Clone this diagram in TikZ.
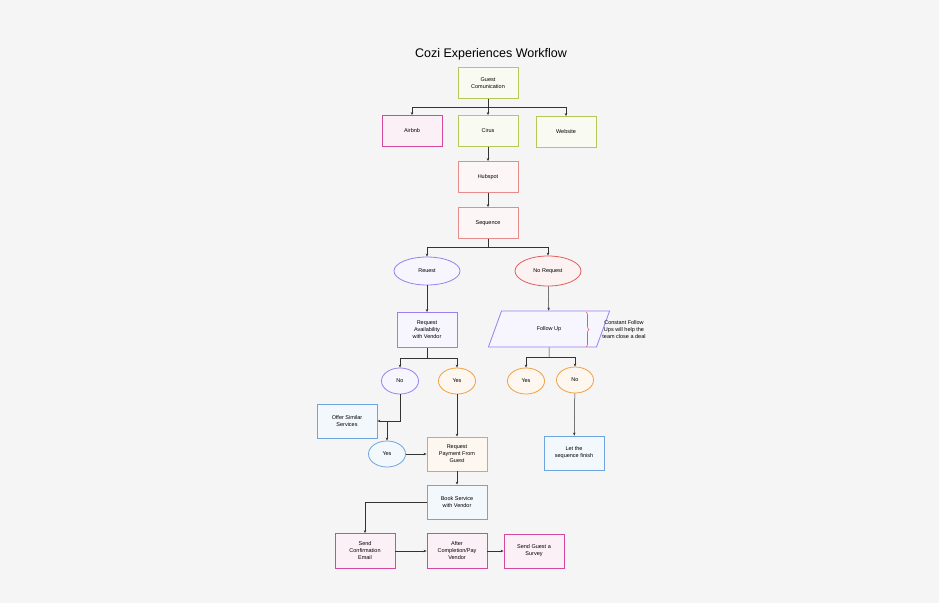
\documentclass[tikz,border=0pt]{standalone}
\usepackage{fontspec}
\setmainfont{Liberation Sans}
\usetikzlibrary{shapes.geometric,arrows.meta,decorations.pathreplacing}
\definecolor{bg}{HTML}{F5F5F5}
\definecolor{grn}{HTML}{B3C95A}
\definecolor{pnk}{HTML}{D6489E}
\definecolor{sal}{HTML}{E88B8B}
\definecolor{pur}{HTML}{9A7FF0}
\definecolor{org}{HTML}{F0A040}
\definecolor{blu}{HTML}{6EA4E0}
\definecolor{rd}{HTML}{E35D5D}
\tikzset{
  box/.style={draw=#1, fill=#1!8, line width=0.8pt, minimum width=60pt, minimum height=31pt, align=center, font=\fontsize{5.5}{7}\selectfont},
  oval/.style={ellipse, draw=#1, fill=#1!8, line width=0.8pt, align=center, font=\fontsize{5.5}{7}\selectfont},
  arr/.style={-{Stealth[length=3pt,width=2.5pt]}, line width=0.5pt, black!80},
  ln/.style={line width=0.5pt, black!80}
}
\begin{document}
\begin{tikzpicture}[x=1pt,y=-1pt]
\fill[bg] (0,0) rectangle (939,603);
\node[font=\fontsize{12.5}{14}\selectfont] (title) at (491,54) {Cozi Experiences Workflow};

\node[box=grn] (guest) at (488,83) {Guest\\Comunication};
\node[box=pnk] (airbnb) at (412,131) {Airbnb};
\node[box=grn] (cirus) at (488,131) {Cirus};
\node[box=grn] (web) at (566,132) {Website};
\node[box=sal] (hub) at (488,177) {Hubspot};
\node[box=sal] (seq) at (488,223) {Sequence};

\node[oval=pur, minimum width=66pt, minimum height=28pt] (req) at (427,271) {Reuest};
\node[oval=rd, minimum width=66pt, minimum height=30pt] (noreq) at (548,271) {No Request};
\node[box=pur, minimum height=35pt] (avail) at (427,330) {Request\\Availability\\with Vendor};
\node[trapezium, trapezium left angle=70, trapezium right angle=110, draw=pur, fill=pur!8, line width=0.8pt, minimum width=50pt, minimum height=36pt, font=\fontsize{5.5}{7}\selectfont] (follow) at (549,329) {Follow Up};
\draw[decorate, decoration={brace, amplitude=3pt}, rd, line width=0.6pt] (586,312) -- (586,347) coordinate[midway] (brc);
\node[font=\fontsize{5.5}{7}\selectfont, align=center] (note) at (624,330) {Constant Follow\\Ups will help the\\team close a deal};

\node[oval=pur, minimum width=37pt, minimum height=26pt] (no1) at (400,381) {No};
\node[oval=org, minimum width=37pt, minimum height=26pt] (yes1) at (457,381) {Yes};
\node[oval=org, minimum width=37pt, minimum height=26pt] (yes2) at (526,381) {Yes};
\node[oval=org, minimum width=37pt, minimum height=26pt] (no2) at (575,380) {No};

\node[box=blu, minimum height=34pt] (offer) at (347,421) {Offer Similar\\Services};
\node[oval=blu, minimum width=37pt, minimum height=26pt] (yes3) at (387,454) {Yes};
\node[box=org, minimum height=34pt] (pay) at (457,454) {Request\\Payment From\\Guest};
\node[box=blu, minimum height=34pt] (finish) at (574,453) {Let the\\sequence finish};
\node[box=blu, minimum height=34pt] (book) at (457,502) {Book Service\\with Vendor};
\node[box=pnk, minimum height=35pt] (conf) at (365,551) {Send\\Confirmation\\Email};
\node[box=pnk, minimum height=35pt] (after) at (457,551) {After\\Completion/Pay\\Vendor};
\node[box=pnk, minimum height=34pt] (survey) at (534,551) {Send Guest a\\Survey};

% connectors
\draw[ln] (guest.south) -- (488,107) coordinate (b1);
\draw[arr] (b1) -| (airbnb.north);
\draw[arr] (b1) -- (cirus.north);
\draw[arr] (b1) -| (web.north);
\draw[arr] (cirus) -- (hub);
\draw[arr] (hub) -- (seq);
\draw[ln] (seq.south) -- (488,247) coordinate (b2);
\draw[arr] (b2) -| (req.north);
\draw[arr] (b2) -| (noreq.north);
\draw[arr] (req) -- (avail);
\draw[arr] (noreq) -- (follow);
\draw[ln] (avail.south) -- (427,358) coordinate (b3);
\draw[arr] (b3) -| (no1.north);
\draw[arr] (b3) -| (yes1.north);
\draw[ln] (follow.south) -- (549,357) coordinate (b4);
\draw[arr] (b4) -| (yes2.north);
\draw[arr] (b4) -| (no2.north);
\draw[arr] (no1.south) |- (offer.east);
\coordinate (b5) at (387,421);
\draw[arr] (b5) -- (yes3.north);
\draw[arr] (yes1) -- (pay);
\draw[arr] (yes3) -- (pay);
\draw[arr] (no2) -- (finish);
\draw[arr] (pay) -- (book);
\draw[arr] (book.west) -| (conf.north);
\draw[arr] (conf) -- (after);
\draw[arr] (after) -- (survey);
\end{tikzpicture}
\end{document}
